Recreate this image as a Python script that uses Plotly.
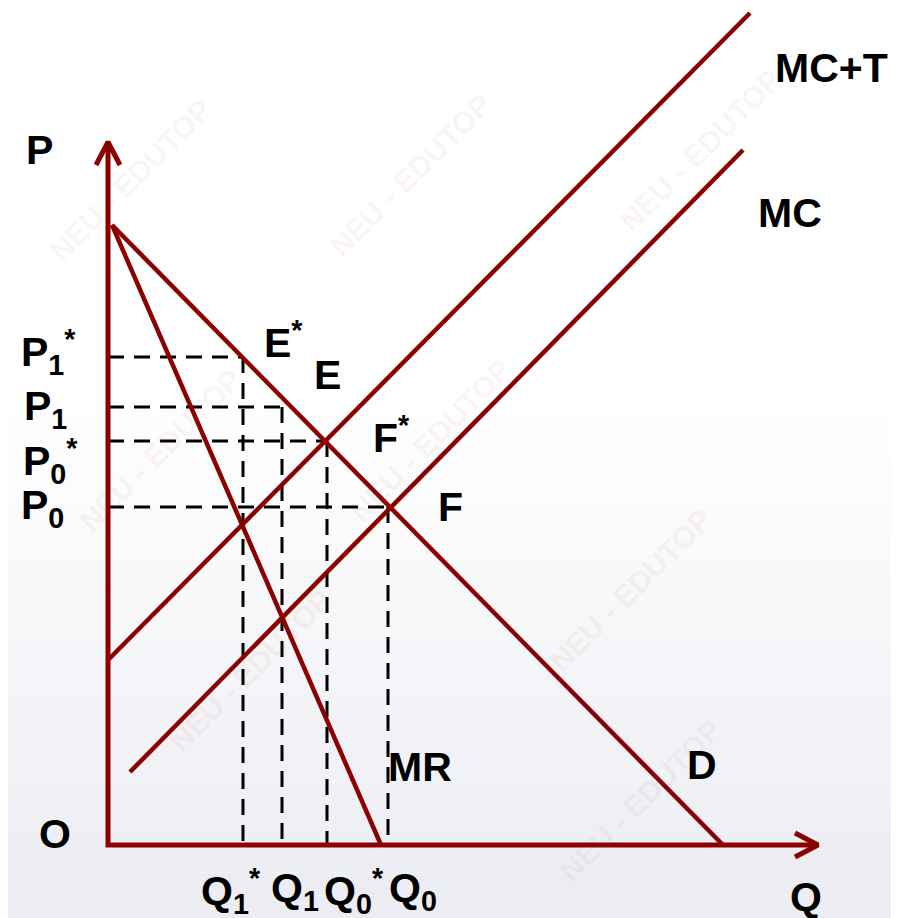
import plotly.graph_objects as go

# ---- data (Q, P units measured from origin O) ----
D_q = [4, 615];   D_p = [620, 0]
MR_q = [4, 273];  MR_p = [620, 0]
MC_q = [22, 635]; MC_p = [73, 695]
MCT_q = [0, 642]; MCT_p = [185, 832]
Q_levels = [135, 174, 219, 280]      # Q1*, Q1, Q0*, Q0
P_levels = [488, 438, 404, 338]      # P1*, P1, P0*, P0
Q_names = ["Q<sub>1</sub><sup>*</sup>", "Q<sub>1</sub>", "Q<sub>0</sub><sup>*</sup>", "Q<sub>0</sub>"]
P_names = ["P<sub>1</sub><sup>*</sup>", "P<sub>1</sub>", "P<sub>0</sub><sup>*</sup>", "P<sub>0</sub>"]
P_axis_top = 703
Q_axis_end = 710

RED = "#8B0000"
PAGE_OFF = 8          # default page body margin
W, H = 899 - PAGE_OFF, 918 - PAGE_OFF
X0, Y0 = 108, 845     # page-pixel position of origin

fig = go.Figure()

# background gradient (white -> pale lavender grey)
n = 40
for i in range(n):
    t = i / (n - 1)
    f = max(0.0, (t - 0.45) / 0.55)
    r = int(255 - f * 19); g = int(255 - f * 18); b = int(255 - f * 12)
    fig.add_shape(type="rect", xref="paper", yref="paper", x0=0, x1=1,
                  y0=1 - (i + 1) / n, y1=1 - i / n, line_width=0,
                  fillcolor=f"rgb({r},{g},{b})", layer="below")

# watermark
wm = [(130, 180), (410, 175), (700, 150), (160, 450), (430, 440),
      (250, 670), (630, 590), (640, 800)]
for (px, py) in wm:
    fig.add_annotation(x=px - X0, y=Y0 - py, text="NEU - EDUTOP", showarrow=False,
                       textangle=-45, font=dict(family="Liberation Sans", size=30,
                                                color="rgba(190,80,80,0.08)", weight="bold"))

def line(xs, ys, width=4.5, dash=None, color=RED):
    fig.add_trace(go.Scatter(x=xs, y=ys, mode="lines", hoverinfo="skip",
                             line=dict(color=color, width=width, dash=dash),
                             showlegend=False, cliponaxis=False))

# dashed guide lines
for q, p in zip(Q_levels, P_levels):
    line([0, q], [p, p], width=3, dash="16px,10px", color="black")
    line([q, q], [p, 0], width=3, dash="16px,10px", color="black")

# curves
line(D_q, D_p)
line(MR_q, MR_p)
line(MC_q, MC_p)
line(MCT_q, MCT_p)

# axes with chevron arrowheads
line([0, 0, Q_axis_end], [P_axis_top, 0, 0], width=5)
a, b = 12, 23
line([-a, 0, a], [P_axis_top - b, P_axis_top, P_axis_top - b], width=5)
line([Q_axis_end - b, Q_axis_end, Q_axis_end - b], [a, 0, -a], width=5)

font = dict(family="Liberation Sans", size=41, color="black", weight="bold")

def label(text, px, py, xanchor="center"):
    fig.add_annotation(x=px - X0, y=Y0 - py, text=text, showarrow=False,
                       xanchor=xanchor, yanchor="middle", font=font)

label("P", 39, 150)
label("MC+T", 831, 68)
label("MC", 790, 213)
label("E<sup>*</sup>", 262, 340, "left")
label("E", 327, 375)
label("F<sup>*</sup>", 371, 435, "left")
label("F", 450, 507)
label("MR", 420, 767)
label("D", 702, 765)
label("O", 55, 834)
label("Q", 806, 897)

P_px = [(19, 352), (22, 409), (21, 461), (19, 508)]
for name, (px, py) in zip(P_names, P_px):
    label(name, px, py, "left")
Q_px = [(199, 891), (269, 891), (322, 891), (387, 891)]
for name, (px, py) in zip(Q_names, Q_px):
    label(name, px, py, "left")

fig.update_layout(
    width=W, height=H, margin=dict(l=0, r=0, t=0, b=0),
    paper_bgcolor="white", plot_bgcolor="white",
    xaxis=dict(range=[-(X0 - PAGE_OFF), W - (X0 - PAGE_OFF)], visible=False, fixedrange=True),
    yaxis=dict(range=[(Y0 - PAGE_OFF) - H, Y0 - PAGE_OFF], visible=False, fixedrange=True),
    showlegend=False,
)
fig.write_html("out.html")
